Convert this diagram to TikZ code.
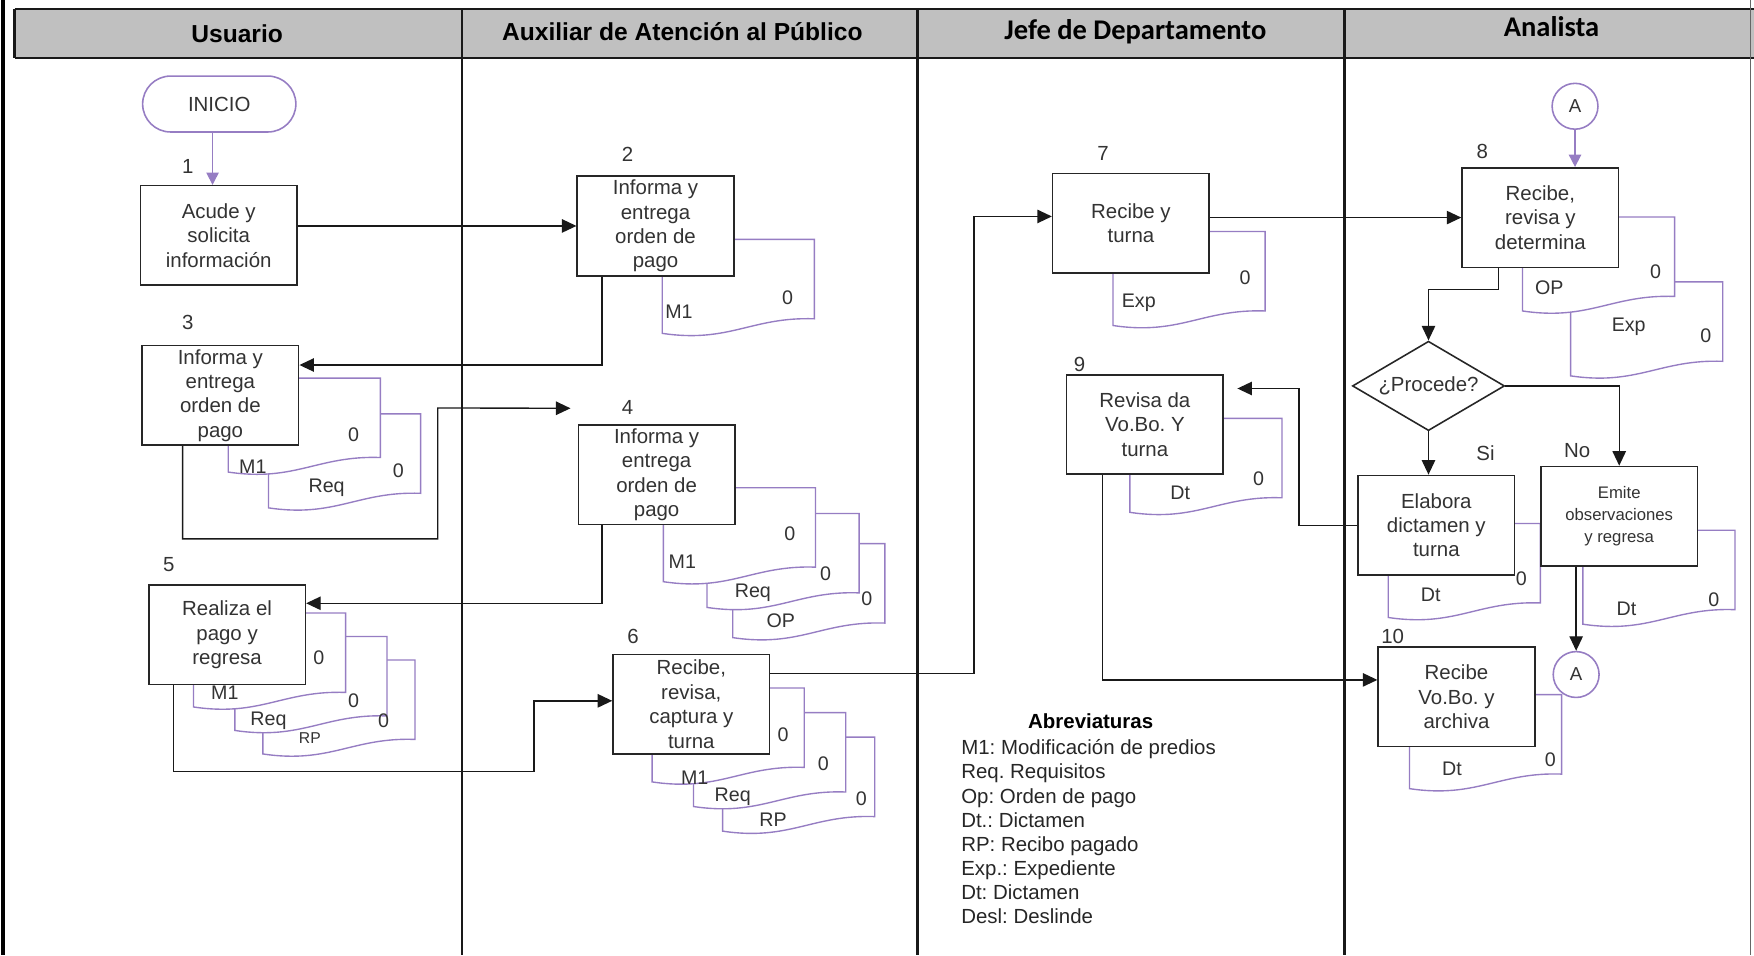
\documentclass[tikz,border=0pt]{standalone}
\usepackage{fontspec}
\setmainfont{Liberation Sans}
\newfontfamily\headfont{Carlito}
\usepackage{tikz}
\usetikzlibrary{arrows.meta,positioning,shapes.geometric,calc}
\frenchspacing

\definecolor{lila}{RGB}{150,125,195}
\definecolor{laneband}{RGB}{192,192,192}

\pgfdeclarelayer{front}
\pgfsetlayers{main,front}

% document sheet: name, x, y, label, label x, label y, zero x, zero y
\newcommand{\docsheet}[8]{%
  \filldraw[docline] (#2,#3) -- (#2+136,#3) -- (#2+136,#3+71)
    .. controls (#2+80,#3+69) and (#2+60,#3+93) .. (#2,#3+84) -- cycle;
  \begin{pgfonlayer}{front}
    \node[doctext] (#1-lab) at (#5,#6) {#4};
    \node[doctext] (#1-cero) at (#7,#8) {0};
  \end{pgfonlayer}
}

\begin{document}
\begin{tikzpicture}[
    x=0.02cm, y=-0.02cm,
    box/.style={rectangle, draw=black!85, line width=0.8pt, fill=white, align=center, minimum width=2.8cm, minimum height=1.78cm, inner sep=1pt, text=black!80, font=\fontsize{10.4}{12.4}\selectfont},
    decision/.style={diamond, draw=black!85, line width=0.8pt, fill=white, shape aspect=1.7, minimum width=2.72cm, minimum height=1.6cm, inner sep=0pt, text=black!80, font=\fontsize{10.4}{12.4}\selectfont},
    terminal/.style={rectangle, rounded corners=0.5cm, draw=lila, line width=0.8pt, fill=white, minimum width=2.74cm, minimum height=1cm, text=black!80, font=\fontsize{10.4}{12.4}\selectfont},
    junction/.style={circle, draw=lila, line width=0.8pt, fill=white, minimum size=0.82cm, inner sep=0pt, text=black!80, font=\fontsize{9.5}{11}\selectfont},
    stepnum/.style={inner sep=0pt, text=black!80, font=\fontsize{10.4}{12}\selectfont},
    doctext/.style={inner sep=0pt, text=black!80, font=\fontsize{10}{12}\selectfont},
    docline/.style={draw=lila, fill=white, line width=0.7pt},
    arrow/.style={-{Triangle[length=2.6mm,width=2.4mm]}, line width=0.7pt, black!90},
    lilaarrow/.style={-{Triangle[length=2.2mm,width=2.2mm]}, line width=0.8pt, lila},
    laneline/.style={line width=1.3pt, black!90},
    lanehead/.style={inner sep=0pt, font=\fontsize{12.5}{14}\selectfont\bfseries},
    lanehead2/.style={inner sep=0pt, font=\fontsize{14.5}{16}\selectfont\headfont\bfseries},
    legendtitle/.style={inner sep=0pt, font=\fontsize{10.4}{12.25}\selectfont\bfseries},
    legendtext/.style={inner sep=0pt, align=left, text=black!85, font=\fontsize{10.4}{12.25}\selectfont}
]
\useasboundingbox (0,0) rectangle (1568,854);

% swimlanes
\fill[laneband] (13,8) rectangle (1568,52);
\draw[laneline] (13,8) -- (1568,8);
\draw[laneline] (13,52) -- (1568,52);
\draw[laneline] (13,8) -- (13,52);
\draw[laneline] (413,8) -- (413,854);
\draw[laneline] (820,8) -- (820,854);
\draw[laneline] (1202,8) -- (1202,854);
\draw[line width=2pt] (3,0) -- (3,854);
\draw[line width=0.6pt, black!60] (1565,0) -- (1565,854);

\node[lanehead] (hu) at (212,30) {Usuario};
\node[lanehead] (ha) at (610,28) {Auxiliar de Atención al Público};
\node[lanehead2] (hj) at (1015,28) {Jefe de Departamento};
\node[lanehead2] (hn) at (1387,24) {Analista};

% documents
\docsheet{d2m}{592}{214}{M1}{607}{279}{704}{266}
\docsheet{d3r}{240}{370}{Req}{292}{436}{356}{421}
\docsheet{d3m}{204}{338}{M1}{226}{417}{316}{389}
\docsheet{d5p}{235}{590}{\fontsize{8}{9}\selectfont RP}{277}{660}{343}{644}
\docsheet{d5r}{210}{569}{Req}{240}{644}{316}{626}
\docsheet{d5m}{173}{548}{M1}{201}{619}{285}{588}
\docsheet{d4o}{655}{486}{OP}{698}{555}{775}{535}
\docsheet{d4r}{632}{459}{Req}{673}{530}{738}{513}
\docsheet{d4m}{593}{436}{M1}{610}{502}{706}{477}
\docsheet{d6p}{646}{659}{RP}{691}{733}{770}{714}
\docsheet{d6r}{620}{637}{Req}{655}{712}{736}{683}
\docsheet{d6m}{583}{615}{M1}{621}{695}{700}{657}
\docsheet{d7e}{995}{207}{Exp}{1018}{271}{1113}{248}
\docsheet{d8e}{1404}{252}{Exp}{1456}{292}{1525}{300}
\docsheet{d8o}{1361}{194}{OP}{1385}{257}{1480}{243}
\docsheet{d9d}{1010}{374}{Dt}{1055}{441}{1125}{428}
\docsheet{dela}{1241}{468}{Dt}{1279}{532}{1360}{517}
\docsheet{demi}{1415}{474}{Dt}{1454}{544}{1532}{536}
\docsheet{d10d}{1260}{621}{Dt}{1298}{687}{1386}{679}

% steps
\node[terminal] (ini) at (196,93) {INICIO};
\node[box] (s1) at (195.5,210.5) {Acude y\\solicita\\información};
\node[box] (s2) at (586,202) {Informa y\\entrega\\orden de\\pago};
\node[box] (s3) at (197,353.5) {Informa y\\entrega\\orden de\\pago};
\node[box] (s4) at (587,424.5) {Informa y\\entrega\\orden de\\pago};
\node[box] (s5) at (203,567.5) {Realiza el\\pago y\\regresa};
\node[box] (s6) at (618,629.5) {Recibe,\\revisa,\\captura y\\turna};
\node[box] (s7) at (1011,199.5) {Recibe y\\turna};
\node[box] (s8) at (1377,194.5) {Recibe,\\revisa y\\determina};
\node[box] (s9) at (1023.5,379.5) {Revisa da\\Vo.Bo. Y\\turna};
\node[decision] (dec) at (1277,345) {¿Procede?};
\node[box] (sela) at (1284,469.5) {Elabora\\dictamen y\\turna};
\node[box, font=\fontsize{8.5}{11}\selectfont] (semi) at (1447.5,461.5) {Emite\\observaciones\\y regresa};
\node[box] (s10) at (1302,623) {Recibe\\Vo.Bo. y\\archiva};
\node[junction] (a1) at (1408,95) {A};
\node[junction] (a2) at (1409,603) {A};

\node[stepnum] (n1) at (168,149) {1};
\node[stepnum] (n2) at (561,138) {2};
\node[stepnum] (n3) at (168,288) {3};
\node[stepnum] (n4) at (561,364) {4};
\node[stepnum] (n5) at (151,505) {5};
\node[stepnum] (n6) at (566,569) {6};
\node[stepnum] (n7) at (986,137) {7};
\node[stepnum] (n8) at (1325,135) {8};
\node[stepnum] (n9) at (965,326) {9};
\node[stepnum] (n10) at (1245,569) {10};
\node[stepnum] (si) at (1328,405) {Si};
\node[stepnum] (no) at (1410,403) {No};
\coordinate (in4) at (510,365);

% connectors
\draw[lilaarrow] ([xshift=-0.12cm]ini.south) -- ([xshift=-0.12cm]ini.south |- s1.north);
\draw[arrow] (s1.east |- s2.west) -- (s2.west);
\draw[arrow] ($(s2.south west)+(23,0)$) |- ($(s3.north east)+(0,18)$);
\draw[arrow] ($(s3.south west)+(37,0)$) -- ++(0,83) -- ++(228,0) -- ++(0,-117) -- (in4);
\draw[arrow] ($(s4.south west)+(22,0)$) |- ($(s5.north east)+(0,17)$);
\draw[arrow] ($(s5.south west)+(23,0)$) -- ++(0,77) -- ++(322,0) |- ($(s6.west)+(0,-3)$);
\draw[arrow] ($(s6.north east)+(0,18)$) -- ++(182,0) |- ($(s7.west)+(0,-6)$);
\draw[arrow] (s7.east |- s8.west) -- (s8.west);
\draw[lilaarrow] (a1.south) -- (a1.south |- s8.north);
\draw[arrow] ($(s8.south west)+(33,0)$) -- ++(0,19) -| (dec.north);
\draw[arrow] (dec.south) -- (dec.south |- sela.north);
\draw[arrow] (dec.east) -| (semi.north);
\draw[arrow] (sela.west) -- ++(-52,0) |- ($(s9.north east)+(12,13)$);
\draw[arrow] ($(s9.south west)+(33,0)$) |- ($(s10.north west)+(0,30)$);
\draw[arrow] (a2.north |- semi.south) -- (a2.north);

% legend
\node[legendtitle] (abrev) at (975,645) {Abreviaturas};
\node[legendtext, anchor=west] (abrevlist) at (859,743.5) {M1: Modificación de predios\\Req. Requisitos\\Op: Orden de pago\\Dt.: Dictamen\\RP: Recibo pagado\\Exp.: Expediente\\Dt: Dictamen\\Desl: Deslinde};
\end{tikzpicture}
\end{document}
